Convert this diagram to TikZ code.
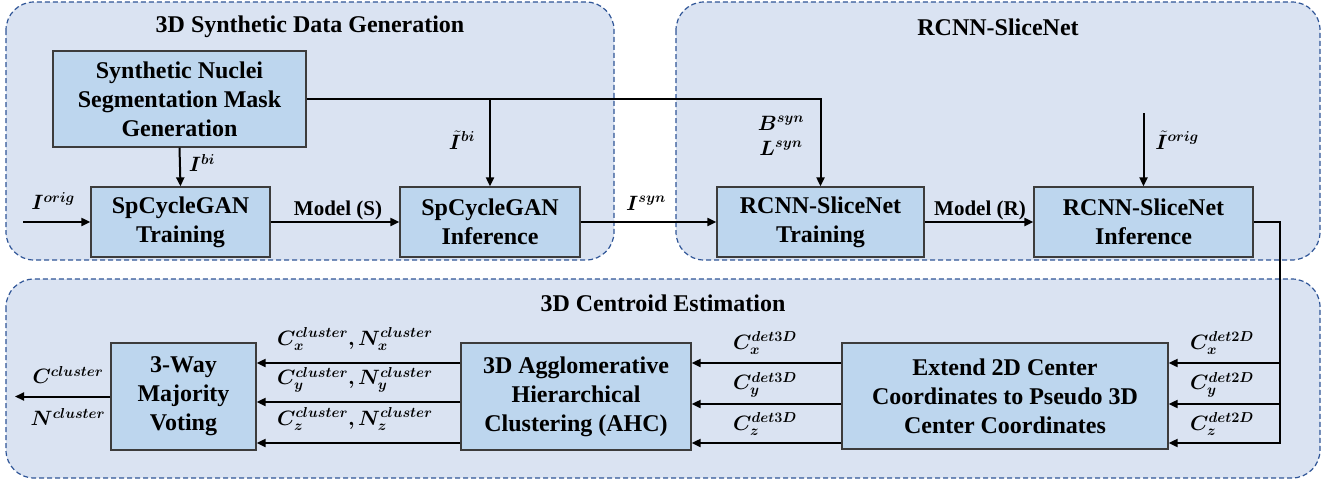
\documentclass[tikz,border=0pt]{standalone}
\usepackage{amsmath}
\usepackage{bm}
\usepackage{fontspec}
\setmainfont{Liberation Serif}
\usetikzlibrary{arrows.meta}
\definecolor{grpfill}{RGB}{218,227,242}
\definecolor{grpborder}{RGB}{47,85,151}
\definecolor{boxfill}{RGB}{189,214,238}
\definecolor{boxborder}{RGB}{60,60,60}
\tikzset{
  grp/.style={draw=grpborder, dash pattern=on 5pt off 3pt, fill=grpfill, rounded corners=28pt, line width=1.2pt},
  box/.style={draw=boxborder, fill=boxfill, line width=1.3pt, font=\fontsize{24}{29}\selectfont\bfseries, align=center, inner sep=0pt},
  ttl/.style={font=\fontsize{24}{29}\selectfont\bfseries, inner sep=0pt},
  mdl/.style={font=\fontsize{21}{25}\selectfont\bfseries, inner sep=0pt},
  lab/.style={font=\fontsize{22}{26}\selectfont, inner sep=0pt},
  conn/.style={line width=2pt},
  arr/.style={line width=2pt, -{Triangle[length=9pt,width=8pt]}}
}
\begin{document}
\begin{tikzpicture}[x=1pt,y=-1pt]
\useasboundingbox (0,0) rectangle (1332,482);
% groups
\path[grp] (6,2) rectangle (614,260);
\path[grp] (676,2) rectangle (1320,260);
\path[grp] (6,279) rectangle (1320,478);
\node[ttl] (t1) at (310,27) {3D Synthetic Data Generation};
\node[ttl] (t2) at (998,27) {RCNN-SliceNet};
\node[ttl] (t3) at (663,303) {3D Centroid Estimation};
% boxes
\node[box, minimum width=253pt, minimum height=96pt] (synth) at (179.5,99) {Synthetic Nuclei\\Segmentation Mask\\Generation};
\node[box, minimum width=179pt, minimum height=70pt] (train) at (180.5,222) {SpCycleGAN\\Training};
\node[box, minimum width=180pt, minimum height=70pt] (infs) at (490,222) {SpCycleGAN\\Inference};
\node[box, minimum width=207pt, minimum height=70pt] (rtrain) at (820.5,222) {RCNN-SliceNet\\Training};
\node[box, minimum width=219pt, minimum height=70pt] (rinf) at (1143.5,222) {RCNN-SliceNet\\Inference};
\node[box, minimum width=145pt, minimum height=107pt] (vote) at (183.5,396.5) {3-Way\\Majority\\Voting};
\node[box, minimum width=230pt, minimum height=107pt] (ahc) at (576,396.5) {3D Agglomerative\\Hierarchical\\Clustering (AHC)};
\node[box, minimum width=326pt, minimum height=106pt] (ext) at (1005,396) {Extend 2D Center\\Coordinates to Pseudo 3D\\Center Coordinates};
% coordinates
\coordinate (iorig) at (23,222);
\coordinate (iorigt) at (1143.5,113);
\coordinate (c1) at (1280,363);
\coordinate (c2) at (1280,404);
\coordinate (c3) at (1280,443);
\coordinate (out) at (15,396.5);
% connectors top
\draw[arr] (iorig) -- (train.west);
\draw[arr] (synth.south) -- (train.north);
\draw[arr] (train.east) -- (infs.west);
\draw[arr] (synth.east) -| (rtrain.north);
\draw[arr] (synth.east -| infs.north) -- (infs.north);
\draw[arr] (infs.east) -- (rtrain.west);
\draw[arr] (rtrain.east) -- (rinf.west);
\draw[arr] (iorigt) -- (rinf.north);
% connectors bottom
\draw[arr] (rinf.east) -| (c3) -- (ext.east |- c3);
\draw[arr] (c1) -- (ext.east |- c1);
\draw[arr] (c2) -- (ext.east |- c2);
\draw[arr] (ext.west |- c1) -- (ahc.east |- c1);
\draw[arr] (ext.west |- c2) -- (ahc.east |- c2);
\draw[arr] (ext.west |- c3) -- (ahc.east |- c3);
\draw[arr] (ahc.west |- c1) -- (vote.east |- c1);
\draw[arr] (ahc.west |- 0,402) -- (vote.east |- 0,402);
\draw[arr] (ahc.west |- c3) -- (vote.east |- c3);
\draw[arr] (vote.west) -- (out);
% labels
\node[lab] (l1) at (53,201) {$\bm{I^{orig}}$};
\node[lab] (l2) at (202,163) {$\bm{I^{bi}}$};
\node[mdl] (l3) at (338,210) {Model (S)};
\node[lab] (l4) at (462,140) {$\bm{\tilde{I}^{bi}}$};
\node[lab] (l5) at (646,203) {$\bm{I^{syn}}$};
\node[lab] (l6) at (781,123) {$\bm{B^{syn}}$};
\node[lab] (l7) at (781,148) {$\bm{L^{syn}}$};
\node[mdl] (l8) at (980,210) {Model (R)};
\node[lab] (l9) at (1177,140) {$\bm{\tilde{I}^{orig}}$};
\node[lab] (d1) at (1222,343) {$\bm{C_x^{det2D}}$};
\node[lab] (d2) at (1222,385) {$\bm{C_y^{det2D}}$};
\node[lab] (d3) at (1222,424) {$\bm{C_z^{det2D}}$};
\node[lab] (e1) at (765,343) {$\bm{C_x^{det3D}}$};
\node[lab] (e2) at (765,385) {$\bm{C_y^{det3D}}$};
\node[lab] (e3) at (765,424) {$\bm{C_z^{det3D}}$};
\node[lab] (k1) at (355,339) {$\bm{C_x^{cluster}, N_x^{cluster}}$};
\node[lab] (k2) at (355,380) {$\bm{C_y^{cluster}, N_y^{cluster}}$};
\node[lab] (k3) at (355,419) {$\bm{C_z^{cluster}, N_z^{cluster}}$};
\node[lab] (o1) at (68,375) {$\bm{C^{cluster}}$};
\node[lab] (o2) at (68,417) {$\bm{N^{cluster}}$};
\end{tikzpicture}
\end{document}
